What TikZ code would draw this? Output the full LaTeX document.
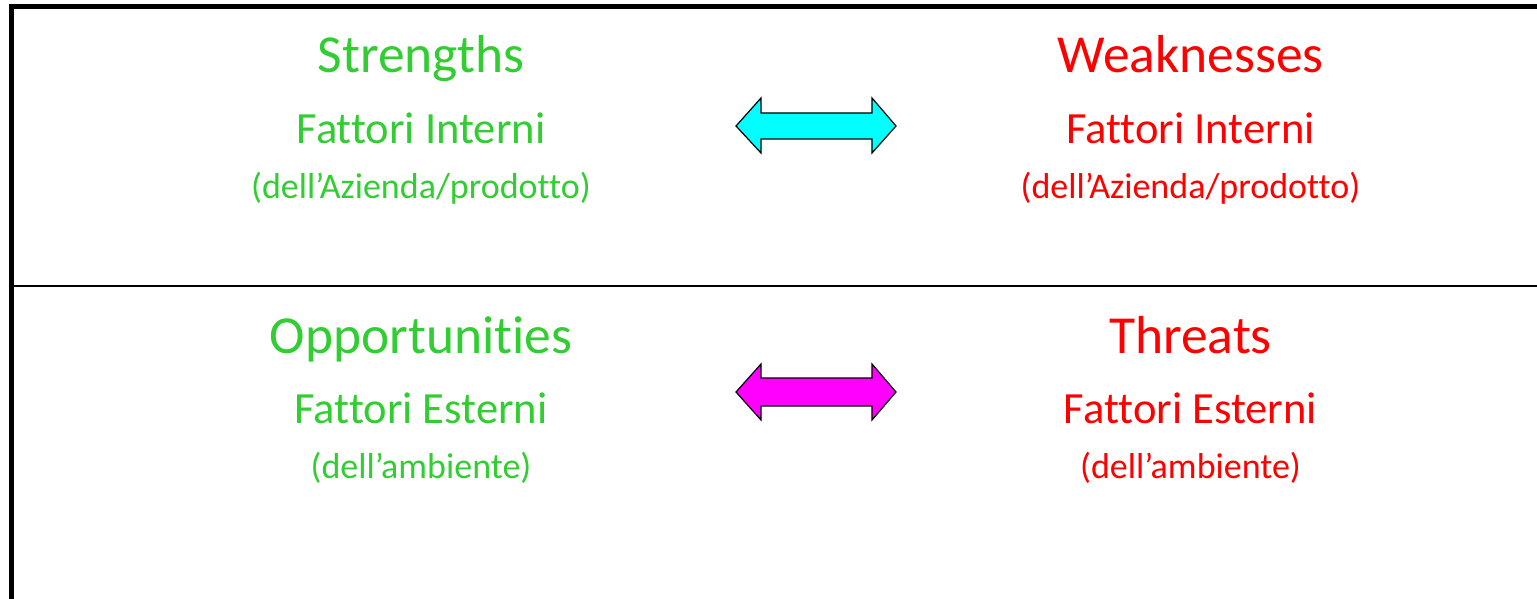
\documentclass[tikz,border=0pt]{standalone}
\usepackage{fontspec}
\setmainfont[Ligatures=NoCommon, RawFeature={-liga;-clig;-dlig}]{Carlito}
\definecolor{sgreen}{RGB}{50,205,50}
\definecolor{sred}{RGB}{255,0,0}
\definecolor{acyan}{RGB}{0,255,255}
\definecolor{amag}{RGB}{255,0,255}
\tikzset{
  ttl/.style={anchor=base, inner sep=0pt, font=\fontsize{53.5}{60}\selectfont},
  sub/.style={anchor=base, inner sep=0pt, font=\fontsize{44.6}{50}\selectfont},
  par/.style={anchor=base, inner sep=0pt, font=\fontsize{36}{40}\selectfont},
  arr/.style={draw=black, line width=1.2pt, line join=miter},
}
\begin{document}
\begin{tikzpicture}[x=1pt,y=-1pt]
\useasboundingbox (0,0) rectangle (1537,599);
% frame
\draw[line width=5pt, line join=miter] (11.5,599) -- (11.5,7) -- (1537,7);
\draw[line width=2.2pt] (14,286) -- (1537,286);
% texts
\node[ttl, text=sgreen] (s) at (421,73) {Strengths};
\node[sub, text=sgreen] (si) at (421,143.5) {Fattori Interni};
\node[par, text=sgreen] (sp) at (421,198.5) {(dell’Azienda/prodotto)};
\node[ttl, text=sred] (w) at (1190.5,73) {Weaknesses};
\node[sub, text=sred] (wi) at (1190.5,143.5) {Fattori Interni};
\node[par, text=sred] (wp) at (1190.5,198.5) {(dell’Azienda/prodotto)};
\node[ttl, text=sgreen] (o) at (421,353) {Opportunities};
\node[sub, text=sgreen] (oe) at (421,423.5) {Fattori Esterni};
\node[par, text=sgreen] (op) at (421,478.5) {(dell’ambiente)};
\node[ttl, text=sred] (t) at (1190.5,353) {Threats};
\node[sub, text=sred] (te) at (1190.5,423.5) {Fattori Esterni};
\node[par, text=sred] (tp) at (1190.5,478.5) {(dell’ambiente)};
% arrows
\draw[arr, fill=acyan] (736,126) -- (761,98) -- (761,113) -- (872,113) -- (872,98) -- (896,126) -- (872,153) -- (872,139) -- (761,139) -- (761,153) -- cycle;
\draw[arr, fill=amag] (736,392) -- (761,364) -- (761,378) -- (872,378) -- (872,364) -- (896,392) -- (872,420) -- (872,406) -- (761,406) -- (761,420) -- cycle;
\end{tikzpicture}
\end{document}
